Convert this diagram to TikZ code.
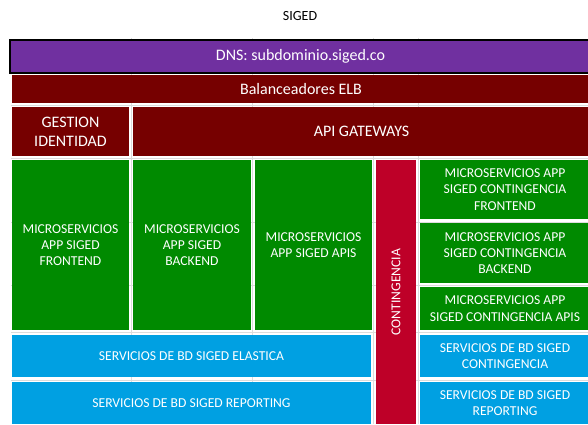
\documentclass[tikz,border=0pt]{standalone}
\usepackage{fontspec}
\setmainfont{Carlito}
\definecolor{morado}{HTML}{7030A0}
\definecolor{granate}{HTML}{760000}
\definecolor{carmin}{HTML}{BE0028}
\definecolor{verde}{HTML}{008A00}
\definecolor{azul}{HTML}{00A0E2}
\definecolor{rejilla}{HTML}{DCDCDC}
\tikzset{
  caja/.style={rectangle, inner sep=0pt, outer sep=0pt, text=white, align=center,
    font=\fontsize{13.6}{16.3}\selectfont},
  cajagrande/.style={caja, font=\fontsize{16}{19}\selectfont},
}
\begin{document}
\begin{tikzpicture}[x=1pt,y=-1pt]
      \useasboundingbox (0,0) rectangle (588,424);
      \clip (0,0) rectangle (588,424);
      % rejilla de fondo
      \foreach \gx in {131,252,373,418} \draw[rejilla, line width=0.6pt] (\gx,38) -- (\gx,424);
      \foreach \gy in {105,158,222,285,332,380} \draw[rejilla, line width=0.6pt] (11,\gy) -- (588,\gy);

      % titulo y capas superiores
      \node[font=\fontsize{14}{16}\selectfont] (titulo) at (300,16) {SIGED};
      \node[cajagrande, fill=morado, draw=black, line width=2pt, minimum width=581, minimum height=33]
                        (dns) at (300.5,56.5) {DNS: subdominio.siged.co};
      \node[cajagrande, fill=granate, minimum width=578, minimum height=28]
                        (elb) at (301,89) {Balanceadores ELB};
      \node[cajagrande, fill=granate, minimum width=117, minimum height=49]
                        (gestion) at (70.5,131.5) {GESTION\\IDENTIDAD};
      \node[cajagrande, fill=granate, minimum width=457, minimum height=49]
                        (apigw) at (361.5,131.5) {API GATEWAYS};

      % microservicios principales
      \node[caja, fill=verde, minimum width=117, minimum height=170]
                        (msfront) at (70.5,245) {MICROSERVICIOS\\APP SIGED\\FRONTEND};
      \node[caja, fill=verde, minimum width=118, minimum height=170]
                        (msback) at (192,245) {MICROSERVICIOS\\APP SIGED\\BACKEND};
      \node[caja, fill=verde, minimum width=117, minimum height=170]
                        (msapis) at (313.5,245) {MICROSERVICIOS\\APP SIGED APIS};

      % contingencia
      \node[caja, fill=carmin, minimum width=40, minimum height=264]
                        (conting) at (396,292) {};
      \node[caja, rotate=90] (contingtxt) at (conting.center) {CONTINGENCIA};
      \node[caja, fill=verde, minimum width=170, minimum height=59]
                        (cfront) at (505,189.5) {MICROSERVICIOS APP\\SIGED CONTINGENCIA\\FRONTEND};
      \node[caja, fill=verde, minimum width=170, minimum height=60]
                        (cback) at (505,253) {MICROSERVICIOS APP\\SIGED CONTINGENCIA\\BACKEND};
      \node[caja, fill=verde, minimum width=170, minimum height=43]
                        (capis) at (505,308.5) {MICROSERVICIOS APP\\SIGED CONTINGENCIA APIS};

      % bases de datos
      \node[caja, fill=azul, minimum width=359, minimum height=42]
                        (bdelastica) at (191.5,356) {SERVICIOS DE BD SIGED ELASTICA};
      \node[caja, fill=azul, minimum width=359, minimum height=42]
                        (bdreporting) at (191.5,403) {SERVICIOS DE BD SIGED REPORTING};
      \node[caja, fill=azul, minimum width=170, minimum height=42]
                        (cbdconting) at (505,356) {SERVICIOS DE BD SIGED\\CONTINGENCIA};
      \node[caja, fill=azul, minimum width=170, minimum height=42]
                        (cbdreporting) at (505,403) {SERVICIOS DE BD SIGED\\REPORTING};
\end{tikzpicture}
\end{document}
